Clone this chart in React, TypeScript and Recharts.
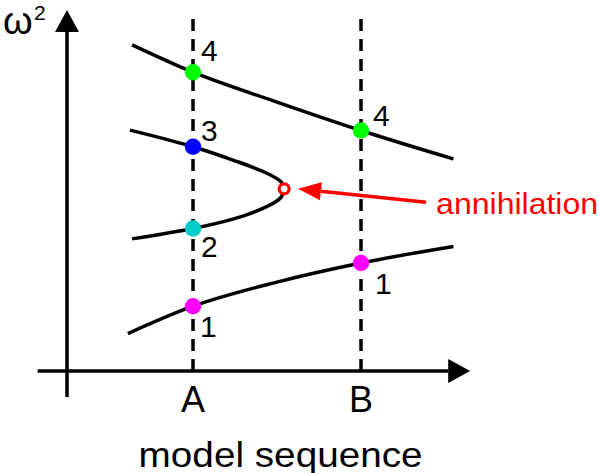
import React from 'react';
import { ComposedChart, Line, Scatter, XAxis, YAxis, ReferenceLine } from 'recharts';

const FONT = '"Liberation Sans", Arial, Helvetica, sans-serif';

// Two sampled models along the sequence
const stageNames = ['A', 'B'];
const stageX = [3, 7];

// Mode branches: x = position along the model sequence, y = ω²
const mode1X = [1.45, 3, 5, 7, 9.2];
const mode1Y = [1.04, 1.8, 2.47, 3.0, 3.46];
const mode4X = [1.55, 3, 5, 7, 9.2];
const mode4Y = [9.06, 8.3, 7.47, 6.68, 5.89];
// Modes 3 (upper) and 2 (lower) fold into one another at the annihilation point
const mode23X = [1.5, 3, 3.95, 4.69, 5.1, 5.17, 5.1, 4.69, 3.95, 3, 1.55];
const mode23Y = [6.69, 6.23, 5.86, 5.53, 5.25, 5.06, 4.83, 4.53, 4.22, 3.96, 3.67];

// Modes present in each model and their ω²
const modesA = ['1', '2', '3', '4'];
const omegaA = [1.8, 3.96, 6.23, 8.3];
const modesB = ['1', '4'];
const omegaB = [3.0, 6.68];

// Where modes 2 and 3 meet, and the callout pointing at it
const annihilationX = [5.17];
const annihilationY = [5.06];
const calloutText = 'annihilation';
const calloutFrom = { x: 8.55, y: 4.69 };
const calloutTo = { x: 5.5, y: 5.06 };

const zip = (xs: number[], ys: number[]) => xs.map((x, i) => ({ x, y: ys[i] }));

const mode1 = zip(mode1X, mode1Y);
const mode4 = zip(mode4X, mode4Y);
const mode23 = zip(mode23X, mode23Y);
const pointsA = modesA.map((mode, i) => ({ x: stageX[0], y: omegaA[i], mode, stage: stageNames[0] }));
const pointsB = modesB.map((mode, i) => ({ x: stageX[1], y: omegaB[i], mode, stage: stageNames[1] }));
const annihilation = zip(annihilationX, annihilationY);

const modeColors: Record<string, string> = {
  '1': '#ff00ff',
  '2': '#00cccc',
  '3': '#0000ff',
  '4': '#00ff00',
};

// Offsets of each mode number from its dot
const labelOffsets: Record<string, [number, number]> = {
  A1: [7, 31],
  A2: [8, 29],
  A3: [8, -5.5],
  A4: [8, -11],
  B1: [14, 31],
  B4: [12, -5],
};

function arrowHead(x1: number, y1: number, x2: number, y2: number, len: number, half: number) {
  const dx = x2 - x1;
  const dy = y2 - y1;
  const d = Math.hypot(dx, dy) || 1;
  const ux = dx / d;
  const uy = dy / d;
  const bx = x2 - ux * len;
  const by = y2 - uy * len;
  return {
    bx,
    by,
    points: `${x2},${y2} ${bx - uy * half},${by + ux * half} ${bx + uy * half},${by - ux * half}`,
  };
}

const XAxisArrow = (p: any) => {
  const h = arrowHead(p.x1, p.y1, p.x2, p.y2, 22, 12);
  return (
    <g>
      <line x1={p.x1} y1={p.y1} x2={h.bx} y2={h.by} stroke="#000" strokeWidth={3.5} />
      <polygon points={h.points} fill="#000" />
    </g>
  );
};

const YAxisArrow = (p: any) => {
  const h = arrowHead(p.x1, p.y1, p.x2, p.y2, 22, 12);
  return (
    <g>
      <line x1={p.x1} y1={p.y1} x2={h.bx} y2={h.by} stroke="#000" strokeWidth={3.5} />
      <polygon points={h.points} fill="#000" />
      <text x={p.x2 - 64} y={p.y2 + 24} fontSize={38} fontFamily={FONT} fill="#000">
        ω
      </text>
      <text x={p.x2 - 33} y={p.y2 + 10} fontSize={21} fontFamily={FONT} fill="#000">
        2
      </text>
    </g>
  );
};

const Callout = (p: any) => {
  const h = arrowHead(p.x1, p.y1, p.x2, p.y2, 23, 9);
  return (
    <g>
      <line x1={p.x1} y1={p.y1} x2={h.bx} y2={h.by} stroke="#ff0000" strokeWidth={3.5} />
      <polygon points={h.points} fill="#ff0000" />
      <text
        x={p.x1 + 10}
        y={p.y1 + 12}
        fontSize={29}
        fontFamily={FONT}
        fill="#ff0000"
        textLength={162}
        lengthAdjust="spacingAndGlyphs"
      >
        {calloutText}
      </text>
    </g>
  );
};

const ModeDot = (p: any) => {
  const { cx, cy, payload } = p;
  const [dx, dy] = labelOffsets[payload.stage + payload.mode] || [8, -8];
  return (
    <g>
      <circle cx={cx} cy={cy} r={8.2} fill={modeColors[payload.mode]} />
      <text x={cx + dx} y={cy + dy} fontSize={30} fontFamily={FONT} fill="#000">
        {payload.mode}
      </text>
    </g>
  );
};

const AnnihilationDot = (p: any) => (
  <circle cx={p.cx} cy={p.cy} r={5} fill="#fff" stroke="#ff0000" strokeWidth={3.2} />
);

const StageTick = (p: any) => {
  const idx = stageX.indexOf(p.payload.value);
  return (
    <text x={p.x} y={p.y + 41} textAnchor="middle" fontSize={36} fontFamily={FONT} fill="#000">
      {stageNames[idx]}
    </text>
  );
};

const AxisTitle = (p: any) => {
  const vb = p.viewBox || { x: 0, y: 0, width: 0, height: 0 };
  return (
    <text
      x={vb.x + vb.width / 2 + 12}
      y={vb.y + 96}
      textAnchor="middle"
      fontSize={35}
      fontFamily={FONT}
      fill="#000"
      textLength={284}
      lengthAdjust="spacingAndGlyphs"
    >
      model sequence
    </text>
  );
};

export default function App() {
  return (
    <div style={{ width: 599, height: 473, background: '#fff' }}>
      <style>{'body{margin:0;}'}</style>
      <ComposedChart
        width={599}
        height={473}
        margin={{ top: 11, right: 128.8, bottom: 62, left: 67 }}
      >
        <XAxis
          type="number"
          dataKey="x"
          domain={[0, 9.6]}
          allowDataOverflow
          ticks={stageX}
          interval={0}
          tick={StageTick}
          axisLine={false}
          tickLine={false}
          tickSize={0}
          tickMargin={0}
          height={40}
          label={{ content: AxisTitle }}
        />
        <YAxis type="number" dataKey="y" domain={[0, 10]} allowDataOverflow hide />

        <ReferenceLine
          segment={[{ x: -0.7, y: 0 }, { x: 9.6, y: 0 }]}
          ifOverflow="visible"
          shape={XAxisArrow}
        />
        <ReferenceLine
          segment={[{ x: 0, y: -0.72 }, { x: 0, y: 10.03 }]}
          ifOverflow="visible"
          shape={YAxisArrow}
        />
        {stageX.map((sx) => (
          <ReferenceLine
            key={sx}
            x={sx}
            stroke="#000"
            strokeWidth={3.5}
            strokeDasharray="12 8"
            ifOverflow="visible"
          />
        ))}
        <ReferenceLine
          segment={[calloutFrom, calloutTo]}
          ifOverflow="visible"
          shape={Callout}
        />

        <Line data={mode1} dataKey="y" type="monotone" stroke="#000" strokeWidth={3.5} dot={false} activeDot={false} isAnimationActive={false} />
        <Line data={mode4} dataKey="y" type="monotone" stroke="#000" strokeWidth={3.5} dot={false} activeDot={false} isAnimationActive={false} />
        <Line data={mode23} dataKey="y" type="monotoneY" stroke="#000" strokeWidth={3.5} dot={false} activeDot={false} isAnimationActive={false} />

        <Scatter data={annihilation} dataKey="y" shape={AnnihilationDot} isAnimationActive={false} />
        <Scatter data={pointsA} dataKey="y" shape={ModeDot} isAnimationActive={false} />
        <Scatter data={pointsB} dataKey="y" shape={ModeDot} isAnimationActive={false} />
      </ComposedChart>
    </div>
  );
}
